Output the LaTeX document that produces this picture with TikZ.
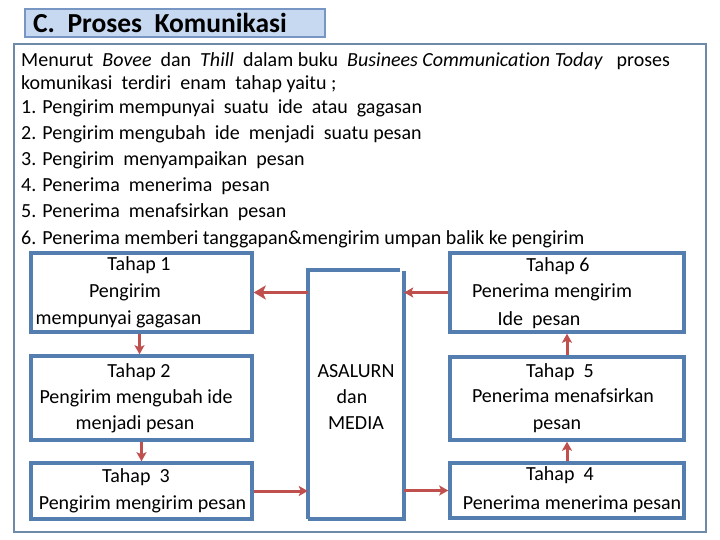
\documentclass[tikz,border=0pt]{standalone}
\usepackage{fontspec}
\setmainfont[Ligatures=NoCommon]{Carlito}
\usetikzlibrary{arrows.meta}
\definecolor{boxblue}{RGB}{84,125,176}
\definecolor{arrred}{RGB}{192,80,77}
\definecolor{framec}{RGB}{110,138,168}
\definecolor{titlefill}{RGB}{198,217,241}
\definecolor{titledraw}{RGB}{120,150,195}
\tikzset{
  stagebox/.style={draw=boxblue, line width=3.5bp, rectangle, inner sep=0pt},
  arr/.style={draw=arrred, line width=3.5bp, -{Stealth[length=12bp,width=14bp,inset=3bp]}},
  varr/.style={draw=arrred, line width=3bp, -{Stealth[length=9bp,width=10bp,inset=2bp]}},
  txt/.style={anchor=base, inner sep=0pt, font=\fontsize{20bp}{26bp}\selectfont},
  body/.style={anchor=base west, inner sep=0pt, font=\fontsize{20bp}{26bp}\selectfont},
}
\begin{document}
\begin{tikzpicture}[x=1bp,y=-1bp]
\useasboundingbox (0,0) rectangle (720,540);
\fill[white] (0,0) rectangle (720,540);
% title
\node[draw=titledraw, fill=titlefill, line width=1.5bp, minimum width=300bp, minimum height=28bp, inner sep=0pt] (title) at (175,23) {};
\node[anchor=base west, inner sep=0pt, font=\fontsize{27.5bp}{30bp}\selectfont\bfseries] (titletxt) at (33,32.5) {C.\ \ Proses\ \ Komunikasi};
% outer frame
\node[draw=framec, line width=1.5bp, minimum width=692bp, minimum height=488bp, inner sep=0pt] (frame) at (360,288) {};
% body text
\node[body] (l1) at (21,67) {Menurut\ \ \textit{Bovee}\ \ dan\ \ \textit{Thill}\ \ dalam buku\ \ \textit{Businees Communication Today}\ \ \ proses};
\node[body] (l2) at (21,90) {komunikasi\ \ terdiri\ \ enam\ \ tahap yaitu ;};
\node[body] (l3) at (21,114) {1. Pengirim mempunyai\ \ suatu\ \ ide\ \ atau\ \ gagasan};
\node[body] (l4) at (21,140) {2. Pengirim mengubah\ \ ide\ \ menjadi\ \ suatu pesan};
\node[body] (l5) at (21,166) {3. Pengirim\ \ menyampaikan\ \ pesan};
\node[body] (l6) at (21,192) {4. Penerima\ \ menerima\ \ pesan};
\node[body] (l7) at (21,218) {5. Penerima\ \ menafsirkan\ \ pesan};
\node[body] (l8) at (21,245) {6. Penerima memberi tanggapan\&mengirim umpan balik ke pengirim};
% boxes
\node[stagebox, minimum width=221bp, minimum height=79bp] (t1) at (141.5,292.5) {};
\node[stagebox, minimum width=221bp, minimum height=84bp] (t2) at (141.5,398) {};
\node[stagebox, minimum width=221bp, minimum height=56bp] (t3) at (141.5,491) {};
\node[stagebox, minimum width=234bp, minimum height=79bp] (t6) at (567,292.5) {};
\node[stagebox, minimum width=234bp, minimum height=83bp] (t5) at (567,398.5) {};
\node[stagebox, minimum width=234bp, minimum height=55bp] (t4) at (567,490.5) {};
\node[inner sep=0pt, minimum width=96bp, minimum height=249bp] (mid) at (356,394.5) {};
\draw[boxblue, line width=3.5bp] (mid.south west) -- (mid.north west) -- ([xshift=-4bp]mid.north east);
\draw[boxblue, line width=3.5bp] ([yshift=-1bp]mid.north east) -- (mid.south east) -- (mid.south west);
% box texts
\node[txt] (t1a) at (139,271) {Tahap 1};
\node[txt] (t1b) at (125,297) {Pengirim};
\node[txt] (t1c) at (118.5,324) {mempunyai gagasan};
\node[txt] (t2a) at (139,377) {Tahap 2};
\node[txt] (t2b) at (136,403) {Pengirim mengubah ide};
\node[txt] (t2c) at (135,429) {menjadi pesan};
\node[txt] (t3a) at (136,482) {Tahap\ \ 3};
\node[txt] (t3b) at (142.5,509) {Pengirim mengirim pesan};
\node[txt] (ma) at (356,377) {ASALURN};
\node[txt] (mb) at (352,403) {dan};
\node[txt] (mc) at (356,429) {MEDIA};
\node[txt] (t6a) at (558,272) {Tahap 6};
\node[txt] (t6b) at (552,297) {Penerima mengirim};
\node[txt] (t6c) at (539,325) {Ide\ \ pesan};
\node[txt] (t5a) at (560,377) {Tahap\ \ 5};
\node[txt] (t5b) at (563,402) {Penerima menafsirkan};
\node[txt] (t5c) at (557,429) {pesan};
\node[txt] (t4a) at (560,480) {Tahap\ \ 4};
\node[txt] (t4b) at (572,509) {Penerima menerima pesan};
% arrows
\draw[arr] (mid.west |- t1.east) -- (t1.east);
\draw[varr] (t6.west) -- (mid.east |- t6.west);
\draw[varr] ([xshift=-2bp]t1.south) -- ([xshift=-2bp]t2.north);
\draw[varr] (t2.south) -- (t3.north);
\draw[varr] (t3.east) -- (mid.west |- t3.east);
\draw[varr] (mid.east |- t4.west) -- (t4.west);
\draw[varr] (t4.north) -- (t5.south);
\draw[varr] (t5.north) -- (t6.south);
\end{tikzpicture}
\end{document}
